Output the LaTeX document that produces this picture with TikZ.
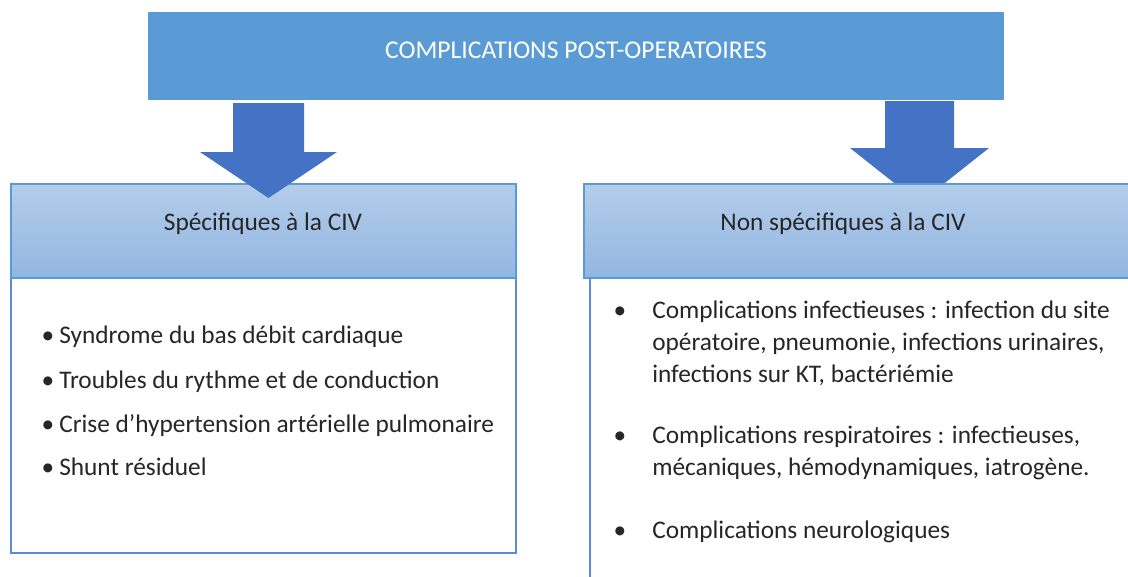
\documentclass[tikz,border=0pt]{standalone}
\usepackage{fontspec}
\setmainfont{Carlito}
\definecolor{topblue}{HTML}{5B9BD5}
\definecolor{arrowblue}{HTML}{4472C4}
\definecolor{headtop}{HTML}{B4CDEA}
\definecolor{headbot}{HTML}{92B6E2}
\definecolor{headline}{HTML}{5B9BD5}
\definecolor{bodyline}{HTML}{5B8BD6}
\definecolor{txt}{HTML}{262626}
\tikzset{
  boxbase/.style={rectangle, inner sep=0pt, outer sep=0pt, anchor=north west},
  topbox/.style={boxbase, fill=topblue, minimum width=642pt, minimum height=66pt},
  headbox/.style={boxbase, top color=headtop, bottom color=headbot, draw=headline, line width=1.5pt, minimum height=70.5pt},
  bodybox/.style={boxbase, fill=white, draw=bodyline, line width=1.5pt},
  bigarrow/.style={fill=arrowblue},
  lbl/.style={inner sep=0pt, text=txt, font=\fontsize{19}{23}\selectfont},
  titlelbl/.style={lbl, text=white, anchor=base, font=\fontsize{19.2}{23}\selectfont},
  headlbl/.style={lbl, anchor=base},
  itemlbl/.style={lbl, anchor=base west},
  bulletlbl/.style={lbl, anchor=base},
}
\begin{document}
\begin{tikzpicture}[x=0.75pt,y=-0.75pt]
\useasboundingbox (0,0) rectangle (1128,576);
\clip (0,0) rectangle (1128,576);
% top box
\node[topbox] (top) at (148,12) {};
\node[titlelbl] (title) at (576,58) {COMPLICATIONS POST-OPERATOIRES};
% right arrow (under the right box)
\fill[bigarrow] (885,101) -- (954,101) -- (954,148) -- (989,148) -- (919.5,203) -- (850,148) -- (885,148) -- cycle;
% left box
\node[bodybox, minimum width=378.75pt, minimum height=206.25pt] (lbody) at (11,278) {};
\node[headbox, minimum width=378.75pt] (lhead) at (11,184) {};
% right box
\node[bodybox, minimum width=412.5pt, minimum height=241.5pt] (rbody) at (590,278) {};
\node[headbox, minimum width=417pt] (rhead) at (584,184) {};
% left arrow (over the left box)
\fill[bigarrow] (233,103) -- (304,103) -- (304,152) -- (337,152) -- (268.5,198) -- (200,152) -- (233,152) -- cycle;
% headers
\node[headlbl] (lht) at (263,230) {Spécifiques à la CIV};
\node[headlbl] (rht) at (843,230) {Non spécifiques à la CIV};
% left items
\node[bulletlbl] (lb1) at (48,343) {•};
\node[itemlbl] (l1) at (59,343) {Syndrome du bas débit cardiaque};
\node[bulletlbl] (lb2) at (48,388) {•};
\node[itemlbl] (l2) at (59,388) {Troubles du rythme et de conduction};
\node[bulletlbl] (lb3) at (48,432) {•};
\node[itemlbl] (l3) at (59,432) {Crise d’hypertension artérielle pulmonaire};
\node[bulletlbl] (lb4) at (48,475) {•};
\node[itemlbl] (l4) at (59,475) {Shunt résiduel};
% right items
\node[bulletlbl] (rb1) at (620,318) {•};
\node[itemlbl] (r1a) at (652,318) {Complications infectieuses : infection du site};
\node[itemlbl] (r1b) at (652,350) {opératoire, pneumonie, infections urinaires,};
\node[itemlbl] (r1c) at (652,382) {infections sur KT, bactériémie};
\node[bulletlbl] (rb2) at (620,443) {•};
\node[itemlbl] (r2a) at (652,443) {Complications respiratoires : infectieuses,};
\node[itemlbl] (r2b) at (652,475) {mécaniques, hémodynamiques, iatrogène.};
\node[bulletlbl] (rb3) at (620,538) {•};
\node[itemlbl] (r3a) at (652,538) {Complications neurologiques};
\end{tikzpicture}
\end{document}
